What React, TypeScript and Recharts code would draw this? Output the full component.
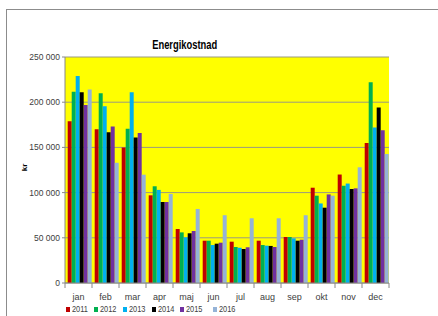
import React from 'react';
import { BarChart, Bar, XAxis, YAxis, CartesianGrid } from 'recharts';

const months = ['jan', 'feb', 'mar', 'apr', 'maj', 'jun', 'jul', 'aug', 'sep', 'okt', 'nov', 'dec'];
const y2011 = [179000, 170000, 150000, 97000, 59700, 46800, 45700, 46800, 50900, 105400, 120000, 155000];
const y2012 = [211600, 210000, 170700, 107000, 56000, 46800, 39800, 42000, 50900, 96600, 107600, 222000];
const y2013 = [229000, 195500, 211000, 103000, 50500, 42000, 39000, 41300, 49400, 88000, 110000, 172000];
const y2014 = [211000, 166700, 161000, 89600, 55000, 43500, 37600, 41000, 46800, 83300, 104000, 194000];
const y2015 = [197000, 173000, 166000, 89600, 57500, 44600, 39500, 39800, 47900, 98000, 104700, 169000];
const y2016 = [214000, 133000, 119800, 98500, 81900, 75000, 71600, 71600, 75000, 96600, 128000, 142700];
const yTicks = [0, 50000, 100000, 150000, 200000, 250000];

const series = [
  { key: '2011', values: y2011, color: '#C00000' },
  { key: '2012', values: y2012, color: '#00B050' },
  { key: '2013', values: y2013, color: '#00B0F0' },
  { key: '2014', values: y2014, color: '#000000' },
  { key: '2015', values: y2015, color: '#7030A0' },
  { key: '2016', values: y2016, color: '#95B3D7' },
];
const legendLeft = [66, 94, 123, 152, 180, 213];

const data = months.map((m, i) => {
  const row: Record<string, any> = { month: m };
  series.forEach((s) => { row[s.key] = s.values[i]; });
  return row;
});

const font = '"Liberation Sans Narrow", "Liberation Sans", sans-serif';
const fmt = (v: number) => (v === 0 ? '0' : `${Math.floor(v / 1000)} ${String(v % 1000).padStart(3, '0')}`);

const XTick = (props: any) => {
  const { x, y, payload, index } = props;
  const half = 13.5;
  return (
    <g>
      <line x1={x - half} x2={x - half} y1={y} y2={y + 5} stroke="#888" />
      {index === months.length - 1 && (
        <line x1={x + half} x2={x + half} y1={y} y2={y + 5} stroke="#888" />
      )}
      <text x={x} y={y + 17} textAnchor="middle" fontSize={9} fontFamily={font} fill="#404040">
        {payload.value}
      </text>
    </g>
  );
};

export default function App() {
  return (
    <div style={{ position: 'absolute', left: 0, top: 0, width: 438, height: 316, background: '#fff', overflow: 'hidden' }}>
      <div style={{ position: 'absolute', left: 6, top: 9, width: 460, height: 340, border: '1px solid #8c8c8c' }} />
      <div style={{ position: 'absolute', left: 0, top: 0 }}>
        <BarChart
          width={438}
          height={316}
          data={data}
          margin={{ top: 57, right: 49, left: 0, bottom: 15 }}
          barCategoryGap="10%"
          barGap={0}
        >
          <CartesianGrid vertical={false} stroke="#9a9a80" fill="#FFFF00" />
          <XAxis
            dataKey="month"
            tick={<XTick />}
            tickLine={false}
            tickSize={0}
            tickMargin={0}
            axisLine={{ stroke: '#888' }}
            height={18}
            interval={0}
          />
          <YAxis
            width={65}
            domain={[0, 250000]}
            ticks={yTicks}
            tickFormatter={fmt}
            tick={{ fontSize: 8.5, fontFamily: font, fill: '#404040' }}
            tickLine={{ stroke: '#888' }}
            tickSize={3}
            axisLine={{ stroke: '#888' }}
            interval={0}
          />
          {series.map((s) => (
            <Bar key={s.key} dataKey={s.key} fill={s.color} isAnimationActive={false} />
          ))}
        </BarChart>
      </div>
      <div style={{ position: 'absolute', left: 125, top: 35, width: 120, textAlign: 'center' }}>
        <span style={{ display: 'inline-block', fontFamily: font, fontWeight: 'bold', fontSize: 12, color: '#000', transform: 'scaleX(0.78)' }}>
          Energikostnad
        </span>
      </div>
      <div style={{ position: 'absolute', left: 21, top: 163, fontFamily: font, fontWeight: 'bold', fontSize: 8, transform: 'rotate(-90deg)', color: '#000' }}>
        kr
      </div>
      {series.map((s, i) => (
        <div key={s.key} style={{ position: 'absolute', left: legendLeft[i], top: 304, display: 'flex', alignItems: 'center', fontFamily: font, fontSize: 9, color: '#404040' }}>
          <span style={{ display: 'inline-block', width: 4, height: 5, background: s.color, marginRight: 2 }} />
          <span style={{ display: 'inline-block', transform: 'scaleX(0.82)', transformOrigin: 'left center' }}>{s.key}</span>
        </div>
      ))}
    </div>
  );
}
